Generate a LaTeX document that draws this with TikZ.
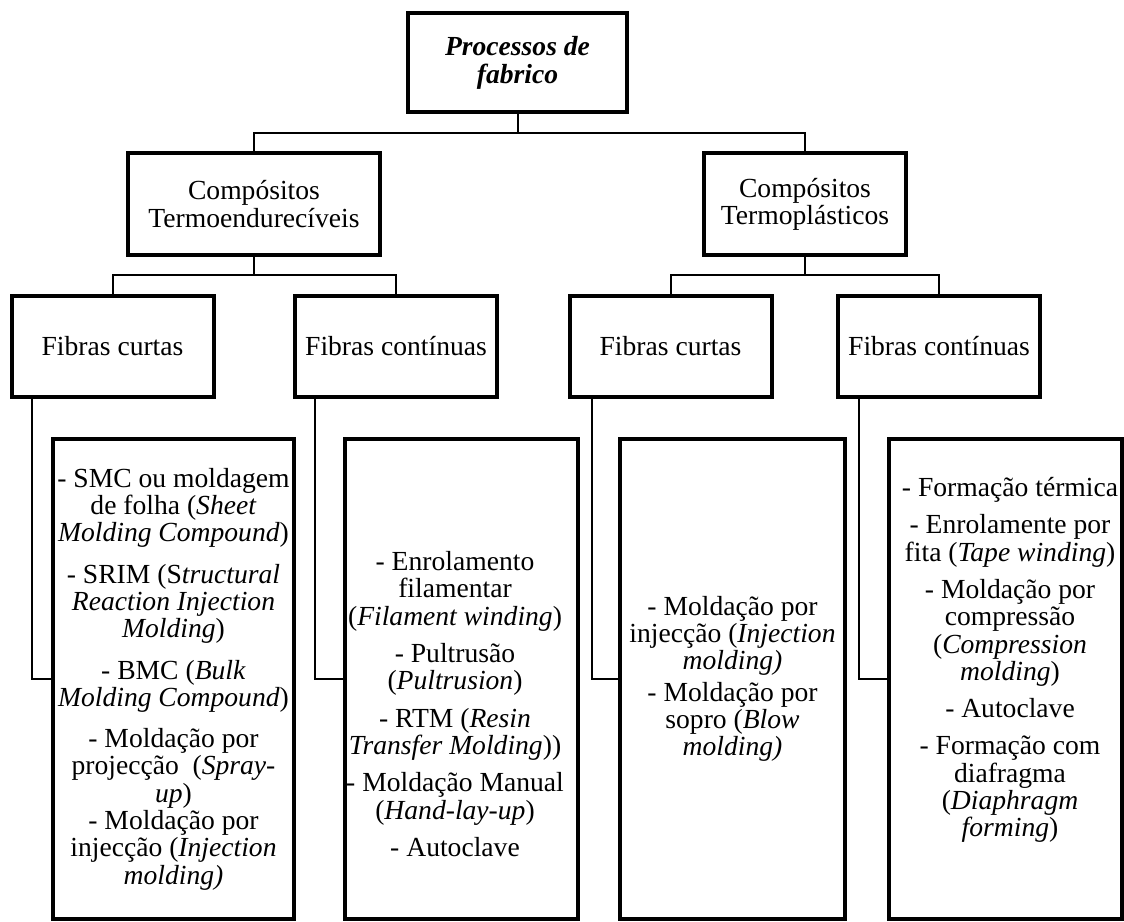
\documentclass[tikz,border=0pt]{standalone}
\usepackage{fontspec}
\setmainfont{Liberation Serif}
\begin{document}
\begin{tikzpicture}[x=1pt,y=-1pt,
  every node/.style={font=\fontsize{27.6pt}{27.3pt}\selectfont, align=center, inner sep=0pt},
  topbox/.style={draw, line width=4pt, minimum width=219pt, minimum height=99pt,
    font=\fontsize{27.6pt}{28pt}\selectfont\bfseries\itshape},
  catbox/.style={draw, line width=4pt, minimum height=102pt},
  fibbox/.style={draw, line width=4pt, minimum width=202pt, minimum height=101pt},
  listbox/.style={draw, line width=3.3pt, minimum height=480pt},
  conn/.style={line width=2pt}
]
\useasboundingbox (0,0) rectangle (1124,921);

% root and the two families of composites
\node[topbox] (top) at (517.5,62.5) {Processos de\\fabrico};
\node[catbox, minimum width=252pt] (c1) at (254,204) {Compósitos\\Termoendurecíveis};
\node[catbox, minimum width=202pt] (c2) at (805,204) {Compósitos\\Termoplásticos};

% fibre types
\node[fibbox] (f1) at (112.5,346.5) {Fibras curtas};
\node[fibbox] (f2) at (396,346.5) {Fibras contínuas};
\node[fibbox] (f3) at (670.5,346.5) {Fibras curtas};
\node[fibbox] (f4) at (939,346.5) {Fibras contínuas};

% process lists
\node[listbox, minimum width=241pt] (b1) at (173.5,679) {};
\node[listbox, minimum width=233pt] (b2) at (461.5,679) {};
\node[listbox, minimum width=225pt] (b3) at (732.5,679) {};
\node[listbox, minimum width=233pt] (b4) at (1005.5,679) {};

\node (b1t) at (173.5,679) {- SMC ou moldagem\\
de folha (\textit{Sheet}\\
\textit{Molding Compound})\\[14pt]
- SRIM (S\textit{tructural}\\
\textit{Reaction Injection}\\
\textit{Molding})\\[14pt]
- BMC (\textit{Bulk}\\
\textit{Molding Compound})\\[14pt]
- Moldação por\\
projecção~ (\textit{Spray-}\\
\textit{up})\\
- Moldação por\\
injecção (\textit{Injection}\\
\textit{molding)}};

\node (b2t) at (455,704) {- Enrolamento\\
filamentar\\
(\textit{Filament winding})\\[10pt]
- Pultrusão\\
(\textit{Pultrusion})\\[10pt]
- RTM (\textit{Resin}\\
\textit{Transfer Molding}))\\[10pt]
- Moldação Manual\\
(\textit{Hand-lay-up})\\[10pt]
- Autoclave};

\node (b3t) at (732.5,679) {- Moldação por\\
injecção (\textit{Injection}\\
\textit{molding)}\\[4pt]
- Moldação por\\
sopro (\textit{Blow}\\
\textit{molding)}};

\node (b4t) at (1010,660) {- Formação térmica\\[10pt]
- Enrolamente por\\
fita (\textit{Tape winding})\\[10pt]
- Moldação por\\
compressão\\
(\textit{Compression}\\
\textit{molding})\\[10pt]
- Autoclave\\[10pt]
- Formação com\\
diafragma\\
(\textit{Diaphragm}\\
\textit{forming})};

% tree connectors
\coordinate (j0) at (517.5,133);
\draw[conn] (top.south) -- (j0);
\draw[conn] (c1.north) |- (j0) -| (c2.north);

\coordinate (j1) at (254,275);
\draw[conn] (c1.south) -- (j1);
\draw[conn] (f1.north) |- (j1) -| (f2.north);

\coordinate (j2) at (805,275);
\draw[conn] (c2.south) -- (j2);
\draw[conn] (f3.north) |- (j2) -| (f4.north);

% from each fibre type down to its list
\draw[conn] ([xshift=22pt]f1.south west) |- (b1.west);
\draw[conn] ([xshift=22pt]f2.south west) |- (b2.west);
\draw[conn] ([xshift=24pt]f3.south west) |- (b3.west);
\draw[conn] ([xshift=23pt]f4.south west) |- (b4.west);
\end{tikzpicture}
\end{document}
